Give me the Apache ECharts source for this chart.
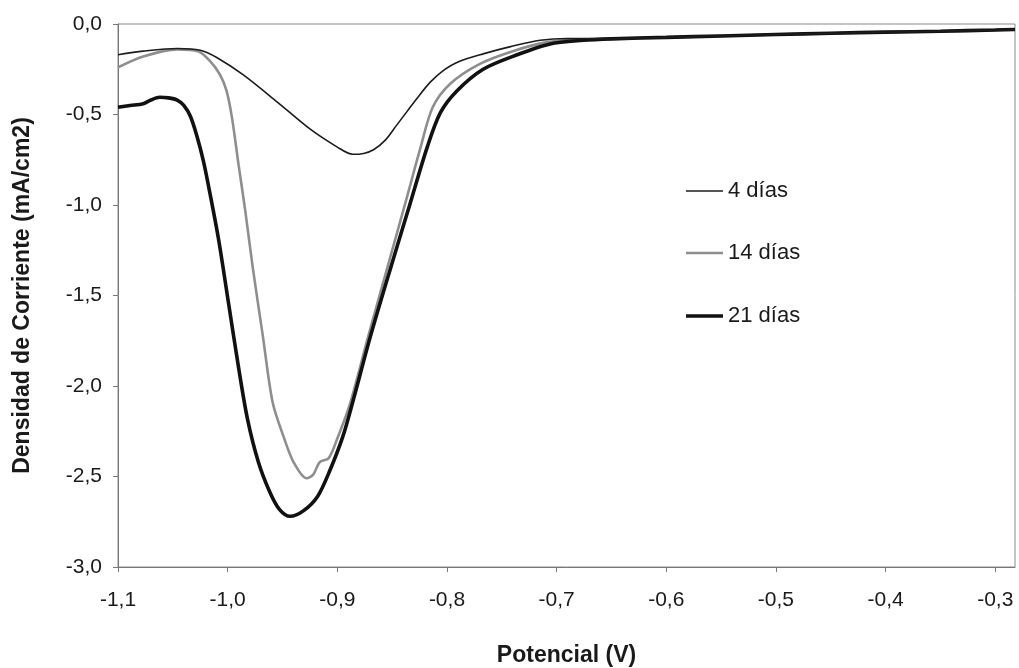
<!DOCTYPE html>
<html>
<head>
<meta charset="utf-8">
<script src="https://cdn.jsdelivr.net/npm/echarts@6/dist/echarts.min.js"></script>
<style>
  html, body { margin: 0; padding: 0; background: #ffffff; }
  #chart { width: 1019px; height: 668px; }
</style>
</head>
<body>
<div id="chart"></div>
<script>
// ---- data ----
const seriesNames = ['4 días', '14 días', '21 días'];

const tailX = [-0.65, -0.60, -0.55, -0.50, -0.45, -0.40, -0.35, -0.30, -0.282];
const tailY = [-0.082, -0.074, -0.066, -0.058, -0.051, -0.045, -0.040, -0.033, -0.030];

const dias4X = [-1.100, -1.077, -1.046, -1.025, -1.010, -0.986, -0.955, -0.925, -0.900, -0.886, -0.876, -0.867, -0.856, -0.846, -0.836, -0.826, -0.815, -0.804, -0.790, -0.767, -0.742, -0.715, -0.690];
const dias4Y = [-0.170, -0.150, -0.135, -0.145, -0.185, -0.280, -0.430, -0.580, -0.680, -0.720, -0.715, -0.695, -0.640, -0.560, -0.480, -0.400, -0.320, -0.260, -0.210, -0.165, -0.125, -0.090, -0.080];

const dias14X = [-1.100, -1.077, -1.046, -1.027, -1.016, -1.007, -1.001, -0.996, -0.990, -0.984, -0.977, -0.968, -0.959, -0.949, -0.940, -0.928, -0.922, -0.916, -0.908, -0.900, -0.888, -0.872, -0.855, -0.838, -0.824, -0.813, -0.797, -0.770, -0.740, -0.709, -0.680];
const dias14Y = [-0.240, -0.180, -0.140, -0.150, -0.205, -0.280, -0.370, -0.520, -0.780, -1.030, -1.350, -1.720, -2.090, -2.280, -2.420, -2.510, -2.490, -2.420, -2.400, -2.290, -2.090, -1.730, -1.360, -0.990, -0.680, -0.460, -0.330, -0.220, -0.150, -0.100, -0.086];

const dias21X = [-1.100, -1.089, -1.077, -1.070, -1.062, -1.054, -1.046, -1.040, -1.034, -1.028, -1.022, -1.016, -1.008, -0.999, -0.990, -0.982, -0.972, -0.962, -0.953, -0.943, -0.931, -0.918, -0.907, -0.895, -0.886, -0.870, -0.852, -0.834, -0.818, -0.806, -0.791, -0.767, -0.736, -0.706, -0.676];
const dias21Y = [-0.460, -0.450, -0.440, -0.420, -0.405, -0.408, -0.420, -0.450, -0.510, -0.620, -0.760, -0.940, -1.200, -1.550, -1.900, -2.180, -2.420, -2.580, -2.680, -2.720, -2.690, -2.610, -2.470, -2.280, -2.090, -1.730, -1.360, -1.000, -0.680, -0.490, -0.370, -0.250, -0.170, -0.110, -0.090];

const xTicks = [-1.1, -1.0, -0.9, -0.8, -0.7, -0.6, -0.5, -0.4, -0.3];

// ---- build ----
function zip(xs, ys) {
  const out = xs.map((x, i) => [x, ys[i]]);
  tailX.forEach((x, i) => out.push([x, tailY[i]]));
  return out;
}
const fmt = v => (Math.abs(v) < 1e-9 ? 0 : v).toFixed(1).replace('.', ',');

const styles = [
  { color: '#1c1c1c', width: 1.6 },
  { color: '#8e8e8e', width: 2.6 },
  { color: '#111111', width: 3.6 }
];
const datas = [zip(dias4X, dias4Y), zip(dias14X, dias14Y), zip(dias21X, dias21Y)];
const legendTops = [178, 240, 303];

const chart = echarts.init(document.getElementById('chart'), null, { renderer: 'canvas' });
const font = '"Liberation Sans", Arial, sans-serif';

chart.setOption({
  backgroundColor: '#ffffff',
  animation: false,
  textStyle: { fontFamily: font },
  grid: {
    left: 118, right: 4, top: 24, bottom: 101,
    outerBoundsMode: 'none',
    containLabel: false,
    show: true, borderColor: '#8a8a8a', borderWidth: 1, backgroundColor: 'transparent'
  },
  legend: seriesNames.map((n, i) => ({
    data: [n],
    orient: 'vertical',
    left: 686,
    top: legendTops[i],
    padding: 0,
    icon: 'rect',
    itemWidth: 37,
    itemHeight: styles[i].width,
    textStyle: { fontFamily: font, fontSize: 22, color: '#1a1a1a', lineHeight: 26 },
    selectedMode: false
  })),
  xAxis: {
    type: 'value',
    min: -1.1,
    max: -0.282,
    name: 'Potencial (V)',
    nameLocation: 'middle',
    nameGap: 77,
    nameTextStyle: { fontFamily: font, fontSize: 23, fontWeight: 'bold', color: '#1a1a1a' },
    axisLine: { show: true, onZero: false, lineStyle: { color: '#777', width: 1 } },
    axisTick: { show: true, inside: false, length: 5, customValues: xTicks, lineStyle: { color: '#777' } },
    axisLabel: { customValues: xTicks, margin: 23, fontSize: 21, color: '#1a1a1a', fontFamily: font, formatter: fmt },
    splitLine: { show: false }
  },
  yAxis: {
    type: 'value',
    min: -3.0,
    max: 0,
    interval: 0.5,
    name: 'Densidad de Corriente (mA/cm2)',
    nameLocation: 'middle',
    nameGap: 84,
    nameTextStyle: { fontFamily: font, fontSize: 23, fontWeight: 'bold', color: '#1a1a1a' },
    axisLine: { show: true, onZero: false, lineStyle: { color: '#777', width: 1 } },
    axisTick: { show: true, inside: false, length: 5, lineStyle: { color: '#777' } },
    axisLabel: { margin: 16, fontSize: 21, color: '#1a1a1a', fontFamily: font, formatter: fmt },
    splitLine: { show: false }
  },
  series: seriesNames.map((n, i) => ({
    name: n,
    type: 'line',
    data: datas[i],
    showSymbol: false,
    symbol: 'none',
    smooth: 0.3,
    lineStyle: { color: styles[i].color, width: styles[i].width },
    itemStyle: { color: styles[i].color },
    z: i === 0 ? 4 : 3
  }))
});
</script>
</body>
</html>
